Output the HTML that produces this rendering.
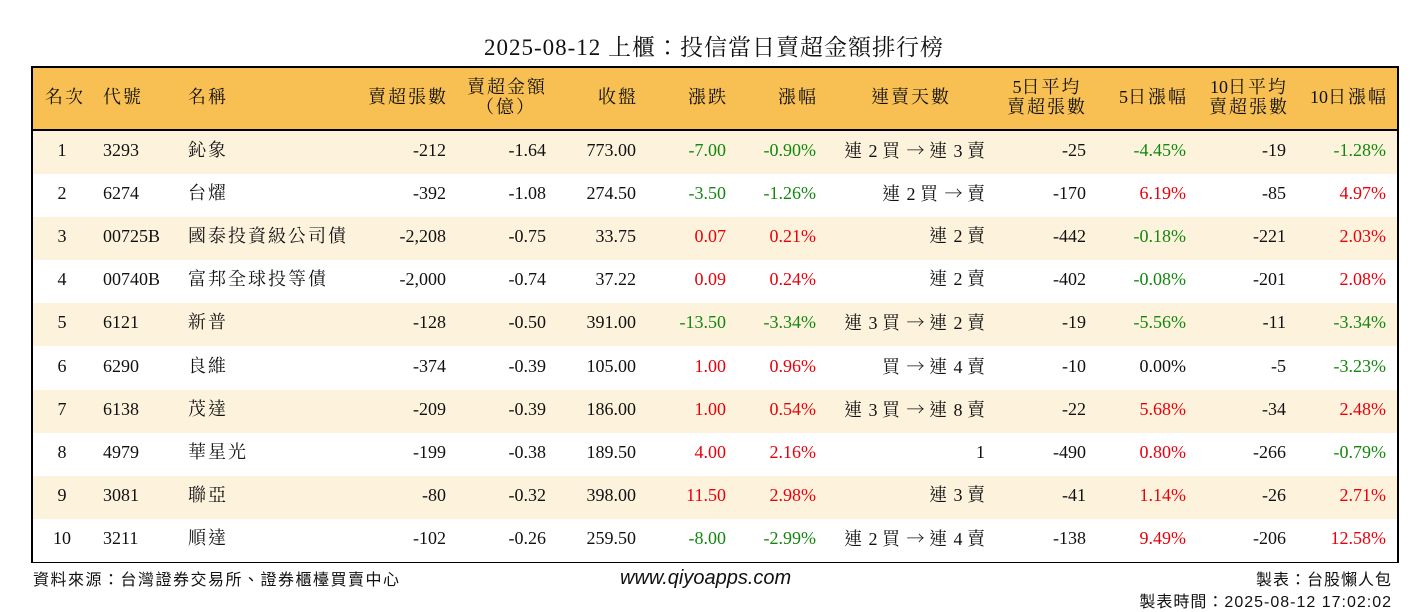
<!DOCTYPE html>
<html><head><meta charset="utf-8"><style>
body{margin:0;width:1428px;height:612px;background:#fff;position:relative;overflow:hidden;font-family:"Liberation Serif","Noto Serif CJK TC","Noto Serif CJK SC",serif;color:#111}
.t{position:absolute;white-space:nowrap;font-size:18px;line-height:20px}
.c{letter-spacing:2px}
.ar{font-family:"Noto Serif CJK TC",serif;letter-spacing:0}
#title{position:absolute;left:0;width:1428px;top:29px;text-align:center;font-size:23px;letter-spacing:1px}
#tbl{position:absolute;left:31px;top:66px;width:1364px;height:493px;border:2px solid #000}
#hdr{position:absolute;left:0;top:0;width:100%;height:61px;background:#f8c052;border-bottom:2px solid #000}
.row{position:absolute;left:0;width:100%;height:43px}
.g{color:#13870f}.r{color:#e8000b}
.ft{position:absolute;font-family:"Liberation Sans","Noto Sans CJK TC",sans-serif;font-size:16px;white-space:nowrap}
</style></head><body>
<div id="title">2025-08-12 上櫃：投信當日賣超金額排行榜</div>
<div id="tbl">
<div id="hdr"></div>
</div>
<div id="layer"></div>
<div class="ft" style="left:33px;top:566px;letter-spacing:1.5px">資料來源：台灣證券交易所、證券櫃檯買賣中心</div>
<div class="ft" style="left:620px;top:567px;font-size:20px;font-style:italic">www.qiyoapps.com</div>
<div class="ft" style="right:36px;top:566px;letter-spacing:1px">製表：台股懶人包</div>
<div class="ft" style="right:36px;top:588px;letter-spacing:1px">製表時間：2025-08-12 17:02:02</div>
<script>
const ranks=[1,2,3,4,5,6,7,8,9,10];
const codes=["3293","6274","00725B","00740B","6121","6290","6138","4979","3081","3211"];
const names=["鈊象","台燿","國泰投資級公司債","富邦全球投等債","新普","良維","茂達","華星光","聯亞","順達"];
const sellVol=["-212","-392","-2,208","-2,000","-128","-374","-209","-199","-80","-102"];
const sellAmt=["-1.64","-1.08","-0.75","-0.74","-0.50","-0.39","-0.39","-0.38","-0.32","-0.26"];
const closes=["773.00","274.50","33.75","37.22","391.00","105.00","186.00","189.50","398.00","259.50"];
const chg=["-7.00","-3.50","0.07","0.09","-13.50","1.00","1.00","4.00","11.50","-8.00"];
const pct=["-0.90%","-1.26%","0.21%","0.24%","-3.34%","0.96%","0.54%","2.16%","2.98%","-2.99%"];
const streak=["連 2 買 → 連 3 賣","連 2 買 → 賣","連 2 賣","連 2 賣","連 3 買 → 連 2 賣","買 → 連 4 賣","連 3 買 → 連 8 賣","1","連 3 賣","連 2 買 → 連 4 賣"];
const avg5=["-25","-170","-442","-402","-19","-10","-22","-490","-41","-138"];
const pct5=["-4.45%","6.19%","-0.18%","-0.08%","-5.56%","0.00%","5.68%","0.80%","1.14%","9.49%"];
const avg10=["-19","-85","-221","-201","-11","-5","-34","-266","-26","-206"];
const pct10=["-1.28%","4.97%","2.03%","2.08%","-3.34%","-3.23%","2.48%","-0.79%","2.71%","12.58%"];
const L=document.getElementById('layer');
function fill(d,s){
 for(const ch of s){
  if(ch==='→'){const sp=document.createElement('span');sp.className='ar';sp.textContent=ch;d.appendChild(sp);}
  else if(/[\u3000-\u9fff\uff00-\uffef]/.test(ch)){const sp=document.createElement('span');sp.className='c';sp.textContent=ch;d.appendChild(sp);}
  else d.appendChild(document.createTextNode(ch));
 }
}
function txt(s,x,y,align,cls,name){const d=document.createElement('div');d.className='t '+(cls||'');fill(d,s);


const adj=/[\u3000-\u9fff]$/.test(s)?2:0;
if(align==='r'){d.style.right=(1428-x-adj)+'px';}else if(align==='c'){d.style.left=(x-100+adj/2)+'px';d.style.width='200px';d.style.textAlign='center';}else d.style.left=x+'px';
d.style.top=(y-10)+'px';L.appendChild(d);return d;}
function col(v){const n=parseFloat(v);return n>0?'r':(n<0?'g':'');}
const hy=97;
txt("名次",45,hy,'l','','header-rank');txt("代號",103,hy,'l','','header-code');txt("名稱",188,hy,'l','','header-name');
txt("賣超張數",446,hy,'r','','header-sell-volume');
txt("賣超金額",506,hy-10,'c','','header-sell-amount');txt("（億）",506,hy+10,'c','','header-sell-amount-unit');
txt("收盤",636,hy,'r','','header-close');txt("漲跌",726,hy,'r','','header-change');txt("漲幅",816,hy,'r','','header-pct');
txt("連賣天數",910,hy,'c','','header-streak');
txt("5日平均",1046,hy-10,'c','','header-avg5');txt("賣超張數",1046,hy+10,'c','','header-avg5-unit');
txt("5日漲幅",1186,hy,'r','','header-pct5');
txt("10日平均",1248,hy-10,'c','','header-avg10');txt("賣超張數",1248,hy+10,'c','','header-avg10-unit');
txt("10日漲幅",1386,hy,'r','','header-pct10');
const T=document.getElementById('tbl');
for(let i=0;i<ranks.length;i++){
 const top=63+i*43.1;
 const rw=document.createElement('div');rw.className='row';rw.style.top=top+'px';
 
 
 rw.style.background=i%2===0?'#fdf3dd':'#fff';T.appendChild(rw);
 const y=66+top+21;
 txt(String(ranks[i]),62,y,'c','','rank');
 txt(codes[i],103,y,'l','','stock-code');
 txt(names[i],188,y,'l','','stock-name');
 txt(sellVol[i],446,y,'r','','sell-volume');
 txt(sellAmt[i],546,y,'r','','sell-amount');
 txt(closes[i],636,y,'r','','close-price');
 txt(chg[i],726,y,'r',col(chg[i]),'price-change');
 txt(pct[i],816,y,'r',col(pct[i]),'price-pct');
 txt(streak[i],985,y,'r','','sell-streak');
 txt(avg5[i],1086,y,'r','','avg5-sell');
 txt(pct5[i],1186,y,'r',col(pct5[i]),'pct5');
 txt(avg10[i],1286,y,'r','','avg10-sell');
 txt(pct10[i],1386,y,'r',col(pct10[i]),'pct10');
}
</script>
</body></html>
